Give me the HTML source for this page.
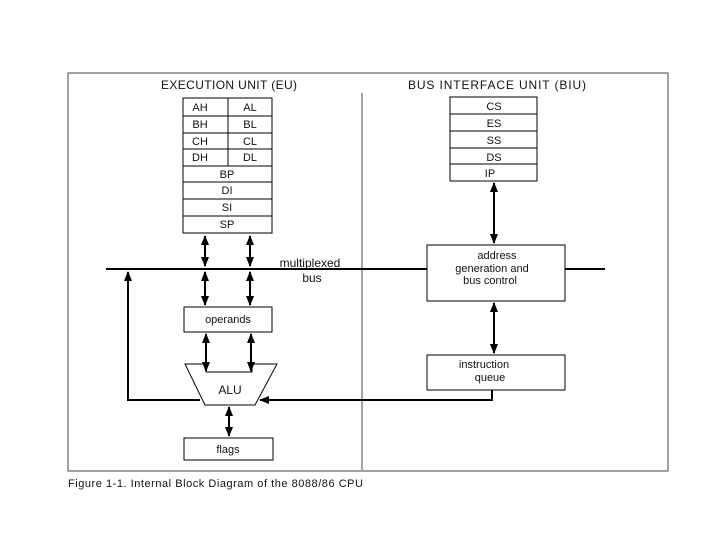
<!DOCTYPE html>
<html><head><style>
body{margin:0;background:#fff;}
svg text{font-family:"Liberation Sans",sans-serif;fill:#111;}
</style></head><body>
<svg width="720" height="540" viewBox="0 0 720 540" xmlns="http://www.w3.org/2000/svg">
<defs>
<marker id="a" viewBox="0 0 10 10" refX="9" refY="5" markerWidth="5" markerHeight="5" orient="auto-start-reverse"><path d="M0,1 L10,5 L0,9 z" fill="#000"/></marker>
</defs>
<g fill="none" stroke="#444" stroke-width="1">
<rect x="68" y="73" width="600" height="398"/>
<line x1="362" y1="93" x2="362" y2="470"/>
</g>
<text x="229" y="89" font-size="12" text-anchor="middle" textLength="136">EXECUTION UNIT (EU)</text>
<text x="497" y="89" font-size="12" text-anchor="middle" textLength="178">BUS INTERFACE UNIT (BIU)</text>
<g fill="none" stroke="#000" stroke-width="1">
<rect x="183" y="98" width="89" height="135"/>
<line x1="183" y1="116" x2="272" y2="116"/><line x1="183" y1="133" x2="272" y2="133"/>
<line x1="183" y1="149" x2="272" y2="149"/><line x1="183" y1="166" x2="272" y2="166"/>
<line x1="183" y1="182" x2="272" y2="182"/><line x1="183" y1="199" x2="272" y2="199"/>
<line x1="183" y1="216" x2="272" y2="216"/><line x1="228" y1="98" x2="228" y2="166"/>
<rect x="450" y="97" width="87" height="84"/>
<line x1="450" y1="114" x2="537" y2="114"/><line x1="450" y1="131" x2="537" y2="131"/>
<line x1="450" y1="148" x2="537" y2="148"/><line x1="450" y1="164" x2="537" y2="164"/>
<rect x="184" y="307" width="88" height="25"/>
<rect x="184" y="438" width="89" height="22"/>
<rect x="427" y="245" width="138" height="56"/>
<rect x="427" y="355" width="138" height="35"/>
<path d="M185,364 H206 V372 H252 V364 H277 L255,405 H205 Z"/>
</g>
<g font-size="11" text-anchor="middle">
<text x="200" y="111">AH</text><text x="250" y="111">AL</text>
<text x="200" y="128">BH</text><text x="250" y="128">BL</text>
<text x="200" y="145">CH</text><text x="250" y="145">CL</text>
<text x="200" y="161">DH</text><text x="250" y="161">DL</text>
<text x="227" y="178">BP</text><text x="227" y="194">DI</text>
<text x="227" y="211">SI</text><text x="227" y="228">SP</text>
<text x="494" y="110">CS</text><text x="494" y="127">ES</text>
<text x="494" y="144">SS</text><text x="494" y="161">DS</text><text x="490" y="177">IP</text>
<text x="228" y="323">operands</text>
<text x="230" y="394" font-size="12">ALU</text>
<text x="228" y="453">flags</text>
<text x="310" y="267" font-size="12">multiplexed</text>
<text x="312" y="282" font-size="12">bus</text>
<text x="497" y="259">address</text>
<text x="492" y="272">generation and</text>
<text x="490" y="284">bus control</text>
<text x="484" y="368">instruction</text>
<text x="490" y="381">queue</text>
</g>
<text x="68" y="487" font-size="11" textLength="295">Figure 1-1. Internal Block Diagram of the 8088/86 CPU</text>
<g stroke="#000" stroke-width="2" fill="none">
<line x1="106" y1="269" x2="427" y2="269"/>
<line x1="565" y1="269" x2="605" y2="269"/>
<line x1="205" y1="236" x2="205" y2="266" marker-start="url(#a)" marker-end="url(#a)"/>
<line x1="250" y1="236" x2="250" y2="266" marker-start="url(#a)" marker-end="url(#a)"/>
<line x1="205" y1="272" x2="205" y2="305" marker-start="url(#a)" marker-end="url(#a)"/>
<line x1="250" y1="272" x2="250" y2="305" marker-start="url(#a)" marker-end="url(#a)"/>
<line x1="206" y1="334" x2="206" y2="371" marker-start="url(#a)" marker-end="url(#a)"/>
<line x1="251" y1="334" x2="251" y2="371" marker-start="url(#a)" marker-end="url(#a)"/>
<line x1="229" y1="407" x2="229" y2="436" marker-start="url(#a)" marker-end="url(#a)"/>
<line x1="494" y1="183" x2="494" y2="243" marker-start="url(#a)" marker-end="url(#a)"/>
<line x1="494" y1="303" x2="494" y2="353" marker-start="url(#a)" marker-end="url(#a)"/>
<path d="M200,400 H128 V272" marker-end="url(#a)"/>
<path d="M492,390 V400 H260" marker-end="url(#a)"/>
</g>
</svg>
</body></html>
